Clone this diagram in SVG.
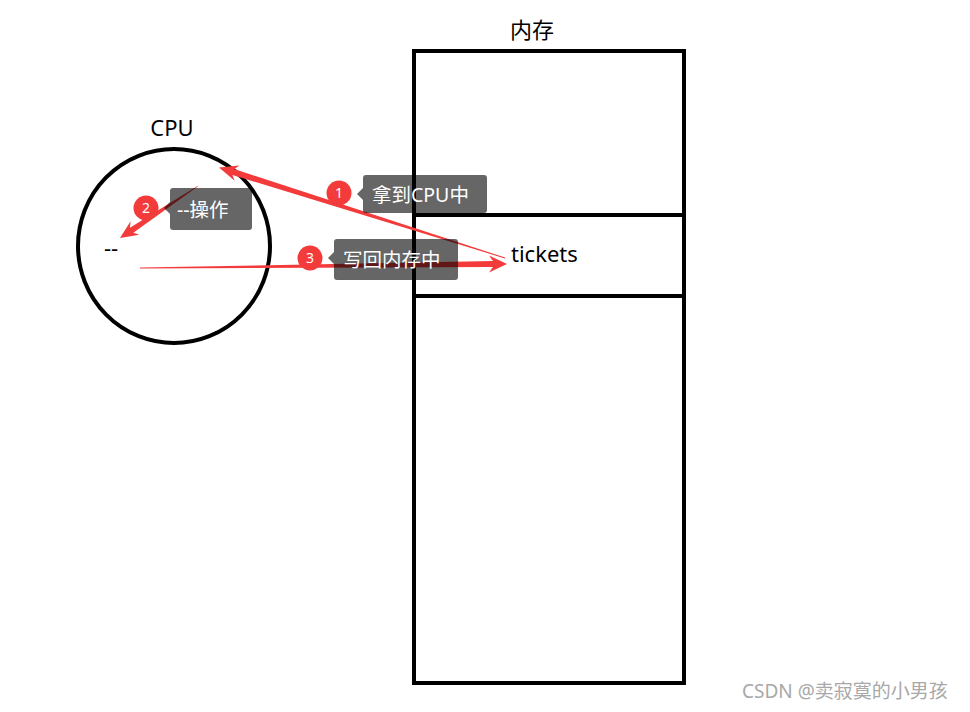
<svg xmlns="http://www.w3.org/2000/svg" width="970" height="712" viewBox="0 0 970 712">
<style>
text{font-family:"Noto Sans","Noto Sans CJK SC",sans-serif;}
.blk{fill:none;stroke:#000;stroke-width:4;}
.lbl{fill:#000;font-size:22px;}
.arr{fill:#f33b3b;}
.tip{fill:#000;fill-opacity:0.6;}
.tipt{fill:#fff;font-size:19.5px;}
.badge{fill:#f33b3b;}
.bt{fill:#fff;font-size:14px;text-anchor:middle;}
</style>
<rect width="970" height="712" fill="#fff"/>
<g id="memory">
<rect class="blk" x="414" y="51" width="270" height="632"/>
<line class="blk" x1="414" y1="215" x2="684" y2="215"/>
<line class="blk" x1="414" y1="296" x2="684" y2="296"/>
<text class="lbl" x="532" y="38" text-anchor="middle">内存</text>
<text class="lbl" x="511" y="262" font-size="24">tickets</text>
</g>
<g id="cpu">
<ellipse class="blk" cx="174" cy="246" rx="96" ry="97"/>
<text class="lbl" x="172" y="136" text-anchor="middle">CPU</text>
<text class="lbl" x="104" y="256">--</text>
</g>
<g id="connectors">
<polygon class="arr" points="505.2,257.6 234.2,169.1 239.5,165.6 219,167.5 234.7,180.8 232.4,174.9 504.8,258.4"/>
<polygon class="arr" points="198.1,186.2 133.3,232.7 139.4,234.7 120,238 130.6,221.3 129.9,227.7 197.9,185.8"/>
<polygon class="arr" points="140,268.4 493,267 489,272.5 507,264 489,255.5 493,261 140,267.6"/>
</g>
<g id="label1">
<rect class="tip" x="363" y="175" width="124" height="38" rx="3"/>
<polygon class="tip" points="363,188 357,194 363,200"/>
<text class="tipt" x="372" y="202">拿到CPU中</text>
<circle class="badge" cx="339" cy="193" r="12.5"/>
<text class="bt" x="339" y="198">1</text>
</g>
<g id="label2">
<rect class="tip" x="170" y="188" width="82" height="42" rx="3"/>
<polygon class="tip" points="170,202 164,208 170,214"/>
<text class="tipt" x="177" y="217">--操作</text>
<circle class="badge" cx="146" cy="208" r="12.5"/>
<text class="bt" x="146" y="213">2</text>
</g>
<g id="label3">
<rect class="tip" x="334" y="239" width="124" height="41" rx="3"/>
<polygon class="tip" points="334,252 328,258 334,264"/>
<text class="tipt" x="343" y="267">写回内存中</text>
<circle class="badge" cx="310" cy="258" r="12.5"/>
<text class="bt" x="310" y="263">3</text>
</g>
<text x="742" y="698" fill="#a8a8a8" font-size="19">CSDN @卖寂寞的小男孩</text>
</svg>
